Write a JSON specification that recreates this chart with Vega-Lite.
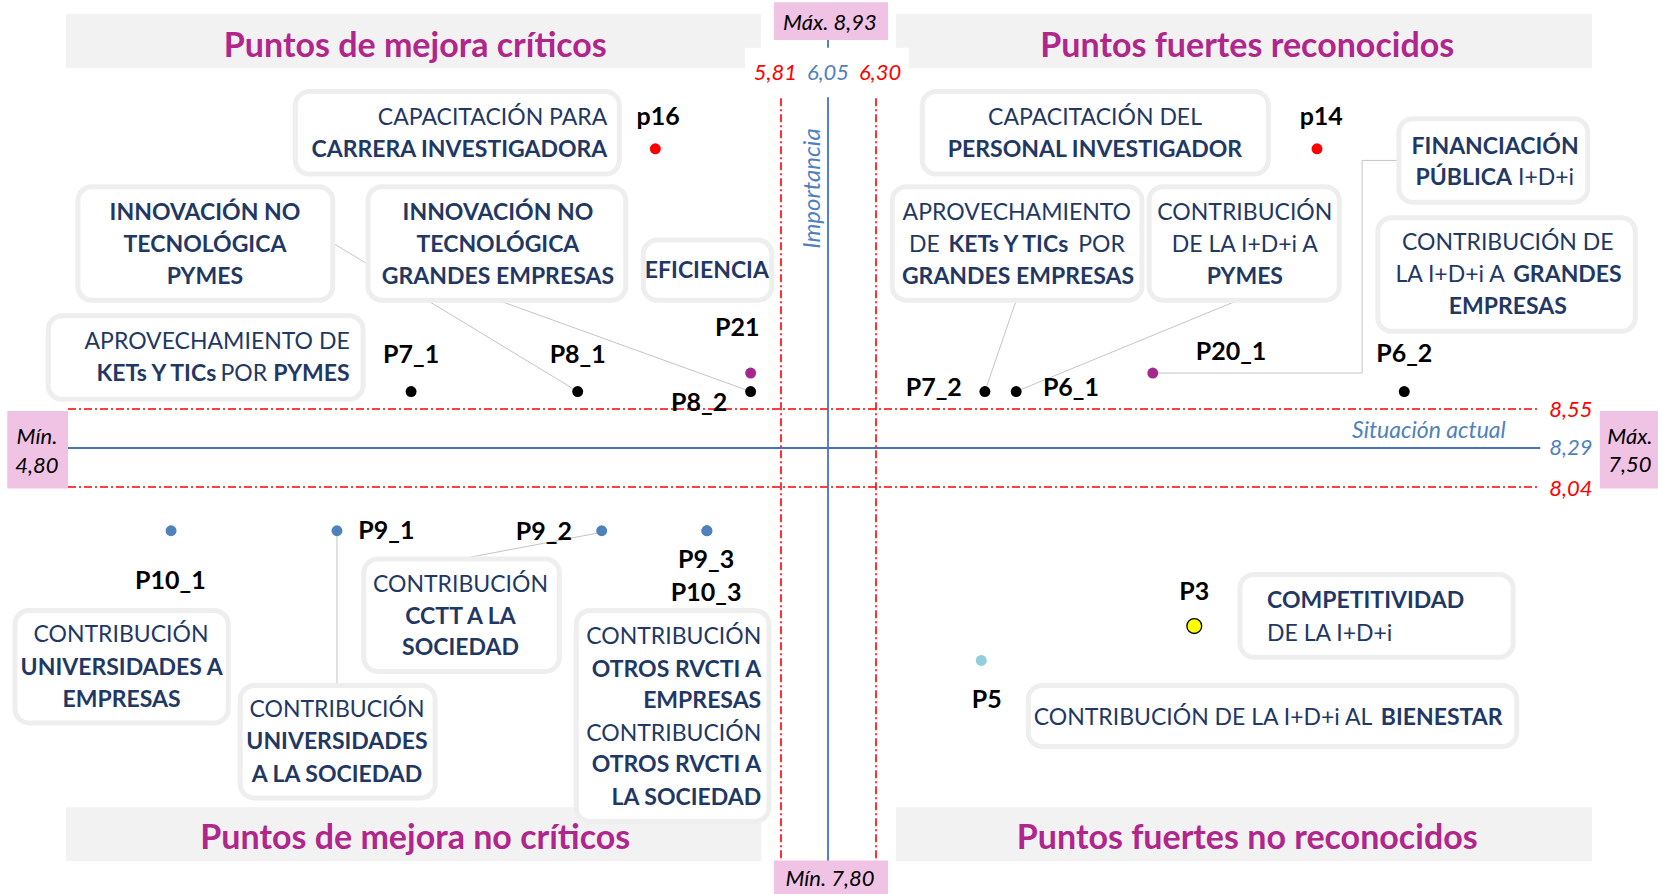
{
  "$schema": "https://vega.github.io/schema/vega-lite/v6.json",
  "width": 1658,
  "height": 894,
  "autosize": {"type": "none"},
  "padding": 0,
  "background": "#ffffff",
  "config": {"view": {"stroke": null}, "text": {"font": "Lato"}},
  "datasets": {
    "bands": [
      {"x": 4.797, "x2": 5.782, "y": 8.957, "y2": 8.901},
      {"x": 6.333, "x2": 7.490, "y": 8.957, "y2": 8.901},
      {"x": 4.797, "x2": 5.782, "y": 7.835, "y2": 7.8006},
      {"x": 6.333, "x2": 7.490, "y": 7.835, "y2": 7.8006}
    ],
    "titles": [
      {"x": 5.292, "y": 8.923, "t": "Puntos de mejora críticos"},
      {"x": 6.917, "y": 8.923, "t": "Puntos fuertes reconocidos"},
      {"x": 5.292, "y": 7.8147, "t": "Puntos de mejora no críticos"},
      {"x": 6.917, "y": 7.8147, "t": "Puntos fuertes no reconocidos"}
    ],
    "leaders": [
      {"x": 5.175, "y": 8.721, "x2": 5.522, "y2": 8.568},
      {"x": 5.409, "y": 8.662, "x2": 5.767, "y2": 8.568},
      {"x": 6.533, "y": 8.662, "x2": 6.481, "y2": 8.568},
      {"x": 6.902, "y": 8.662, "x2": 6.533, "y2": 8.568},
      {"x": 7.169, "y": 8.806, "x2": 7.108, "y2": 8.806},
      {"x": 7.108, "y": 8.806, "x2": 7.108, "y2": 8.587},
      {"x": 7.108, "y": 8.587, "x2": 6.760, "y2": 8.587},
      {"x": 5.181, "y": 8.012, "x2": 5.181, "y2": 7.913},
      {"x": 5.556, "y": 8.011, "x2": 5.357, "y2": 7.994}
    ],
    "hred": [{"y": 8.55, "x": 4.80, "x2": 7.40}, {"y": 8.04, "x": 4.80, "x2": 7.40}],
    "hblue": [{"y": 8.29, "x": 4.80, "x2": 7.404}],
    "vred": [{"x": 5.81, "y": 8.870, "y2": 7.80}, {"x": 6.30, "y": 8.870, "y2": 7.80}],
    "vblue": [{"x": 6.05, "y": 8.93, "y2": 7.80}],
    "whiteTag": [{"x": 5.759, "x2": 6.355, "y": 8.922, "y2": 8.871}],
    "pink": [
      {"x": 5.800, "x2": 6.320, "y": 8.969, "y2": 8.93},
      {"x": 5.800, "x2": 6.320, "y": 7.801, "y2": 7.775},
      {"x": 4.714, "x2": 4.80, "y": 8.537, "y2": 8.039},
      {"x": 7.503, "x2": 7.600, "y": 8.537, "y2": 8.039}
    ],
    "boxes": [
      {"x": 5.122, "x2": 5.581, "y": 8.877, "y2": 8.792},
      {"x": 4.814, "x2": 5.175, "y": 8.779, "y2": 8.662},
      {"x": 5.225, "x2": 5.590, "y": 8.779, "y2": 8.662},
      {"x": 5.615, "x2": 5.797, "y": 8.724, "y2": 8.662},
      {"x": 4.772, "x2": 5.218, "y": 8.646, "y2": 8.560},
      {"x": 6.377, "x2": 6.952, "y": 8.877, "y2": 8.792},
      {"x": 6.327, "x2": 6.742, "y": 8.779, "y2": 8.662},
      {"x": 6.754, "x2": 7.070, "y": 8.779, "y2": 8.662},
      {"x": 7.169, "x2": 7.483, "y": 8.849, "y2": 8.763},
      {"x": 7.134, "x2": 7.562, "y": 8.747, "y2": 8.630},
      {"x": 4.725, "x2": 5.027, "y": 7.961, "y2": 7.889},
      {"x": 5.044, "x2": 5.320, "y": 7.913, "y2": 7.841},
      {"x": 5.219, "x2": 5.496, "y": 7.994, "y2": 7.922},
      {"x": 5.520, "x2": 5.793, "y": 7.961, "y2": 7.826},
      {"x": 6.905, "x2": 7.359, "y": 7.984, "y2": 7.931},
      {"x": 6.553, "x2": 7.365, "y": 7.913, "y2": 7.874}
    ],
    "txtN": [
      {"x": 6.664, "y": 8.850, "t": "CAPACITACIÓN DEL"},
      {"x": 6.534, "y": 8.752, "t": "APROVECHAMIENTO"},
      {"x": 6.913, "y": 8.752, "t": "CONTRIBUCIÓN"},
      {"x": 6.913, "y": 8.719, "t": "DE LA I+D+i A"},
      {"x": 7.350, "y": 8.721, "t": "CONTRIBUCIÓN DE"},
      {"x": 4.875, "y": 7.945, "t": "CONTRIBUCIÓN"},
      {"x": 5.181, "y": 7.897, "t": "CONTRIBUCIÓN"},
      {"x": 5.356, "y": 7.977, "t": "CONTRIBUCIÓN"}
    ],
    "txtB": [
      {"x": 4.994, "y": 8.752, "t": "INNOVACIÓN NO"},
      {"x": 4.994, "y": 8.719, "t": "TECNOLÓGICA"},
      {"x": 4.994, "y": 8.686, "t": "PYMES"},
      {"x": 5.409, "y": 8.752, "t": "INNOVACIÓN NO"},
      {"x": 5.409, "y": 8.719, "t": "TECNOLÓGICA"},
      {"x": 5.409, "y": 8.686, "t": "GRANDES EMPRESAS"},
      {"x": 5.705, "y": 8.692, "t": "EFICIENCIA"},
      {"x": 6.664, "y": 8.817, "t": "PERSONAL INVESTIGADOR"},
      {"x": 6.520, "y": 8.719, "t": "KETs Y TICs"},
      {"x": 6.536, "y": 8.686, "t": "GRANDES EMPRESAS"},
      {"x": 6.913, "y": 8.686, "t": "PYMES"},
      {"x": 7.329, "y": 8.820, "t": "FINANCIACIÓN"},
      {"x": 7.350, "y": 8.655, "t": "EMPRESAS"},
      {"x": 4.876, "y": 7.924, "t": "UNIVERSIDADES A"},
      {"x": 4.876, "y": 7.904, "t": "EMPRESAS"},
      {"x": 5.181, "y": 7.877, "t": "UNIVERSIDADES"},
      {"x": 5.181, "y": 7.856, "t": "A  LA SOCIEDAD"},
      {"x": 5.356, "y": 7.957, "t": "CCTT A  LA"},
      {"x": 5.356, "y": 7.937, "t": "SOCIEDAD"}
    ],
    "txtNR": [
      {"x": 5.564, "y": 8.850, "t": "CAPACITACIÓN PARA"},
      {"x": 5.199, "y": 8.619, "t": "APROVECHAMIENTO DE"},
      {"x": 5.082, "y": 8.586, "t": "POR"},
      {"x": 6.406, "y": 8.719, "t": "DE"},
      {"x": 7.345, "y": 8.688, "t": "LA I+D+i A"},
      {"x": 5.782, "y": 7.944, "t": "CONTRIBUCIÓN"},
      {"x": 5.782, "y": 7.882, "t": "CONTRIBUCIÓN"},
      {"x": 7.125, "y": 7.892, "t": "CONTRIBUCIÓN DE LA I+D+i AL"}
    ],
    "txtBR": [
      {"x": 5.564, "y": 8.817, "t": "CARRERA INVESTIGADORA"},
      {"x": 5.199, "y": 8.586, "t": "PYMES"},
      {"x": 5.010, "y": 8.586, "t": "KETs Y TICs"},
      {"x": 7.357, "y": 8.788, "t": "PÚBLICA"},
      {"x": 5.782, "y": 7.923, "t": "OTROS RVCTI A"},
      {"x": 5.782, "y": 7.903, "t": "EMPRESAS"},
      {"x": 5.782, "y": 7.862, "t": "OTROS RVCTI A"},
      {"x": 5.782, "y": 7.841, "t": "LA SOCIEDAD"}
    ],
    "txtNL": [
      {"x": 6.636, "y": 8.719, "t": "POR"},
      {"x": 7.367, "y": 8.788, "t": "I+D+i"},
      {"x": 6.950, "y": 7.946, "t": "DE LA I+D+i"}
    ],
    "txtBL": [
      {"x": 7.359, "y": 8.688, "t": "GRANDES"},
      {"x": 6.950, "y": 7.967, "t": "COMPETITIVIDAD"},
      {"x": 7.139, "y": 7.892, "t": "BIENESTAR"}
    ],
    "points": [
      {"id": "p16", "g": "Capacitación", "x": 5.632, "y": 8.818},
      {"id": "p14", "g": "Capacitación", "x": 7.033, "y": 8.818},
      {"id": "P21", "g": "Eficiencia y financiación", "x": 5.767, "y": 8.587},
      {"id": "P20_1", "g": "Eficiencia y financiación", "x": 6.760, "y": 8.587},
      {"id": "P8_2", "g": "Empresas", "x": 5.767, "y": 8.568},
      {"id": "P7_1", "g": "Empresas", "x": 5.286, "y": 8.568},
      {"id": "P8_1", "g": "Empresas", "x": 5.522, "y": 8.568},
      {"id": "P7_2", "g": "Empresas", "x": 6.481, "y": 8.568},
      {"id": "P6_1", "g": "Empresas", "x": 6.533, "y": 8.568},
      {"id": "P6_2", "g": "Empresas", "x": 7.178, "y": 8.568},
      {"id": "P10_1", "g": "Sociedad", "x": 4.946, "y": 8.012},
      {"id": "P9_1", "g": "Sociedad", "x": 5.181, "y": 8.012},
      {"id": "P9_2", "g": "Sociedad", "x": 5.556, "y": 8.012},
      {"id": "P9_3", "g": "Sociedad", "x": 5.705, "y": 8.012},
      {"id": "P10_3", "g": "Sociedad", "x": 5.705, "y": 8.012},
      {"id": "P3", "g": "Competitividad", "x": 6.829, "y": 7.951},
      {"id": "P5", "g": "Bienestar", "x": 6.475, "y": 7.929}
    ],
    "pointLabels": [
      {"x": 5.636, "y": 8.851, "t": "p16"},
      {"x": 7.040, "y": 8.851, "t": "p14"},
      {"x": 5.748, "y": 8.633, "t": "P21"},
      {"x": 5.286, "y": 8.606, "t": "P7_1"},
      {"x": 5.522, "y": 8.606, "t": "P8_1"},
      {"x": 5.694, "y": 8.556, "t": "P8_2"},
      {"x": 6.396, "y": 8.572, "t": "P7_2"},
      {"x": 6.624, "y": 8.572, "t": "P6_1"},
      {"x": 6.890, "y": 8.609, "t": "P20_1"},
      {"x": 7.178, "y": 8.607, "t": "P6_2"},
      {"x": 5.251, "y": 8.012, "t": "P9_1"},
      {"x": 5.474, "y": 8.011, "t": "P9_2"},
      {"x": 4.945, "y": 7.980, "t": "P10_1"},
      {"x": 5.704, "y": 7.993, "t": "P9_3"},
      {"x": 5.704, "y": 7.972, "t": "P10_3"},
      {"x": 6.829, "y": 7.973, "t": "P3"},
      {"x": 6.484, "y": 7.904, "t": "P5"}
    ],
    "redLabels": [
      {"x": 5.802, "y": 8.896, "t": "5,81"},
      {"x": 6.307, "y": 8.896, "t": "6,30"},
      {"x": 7.455, "y": 8.543, "t": "8,55"},
      {"x": 7.455, "y": 8.039, "t": "8,04"}
    ],
    "blueLabels": [
      {"x": 6.05, "y": 8.896, "t": "6,05"},
      {"x": 7.455, "y": 8.29, "t": "8,29"}
    ],
    "axisTitleX": [{"x": 7.219, "y": 8.405, "t": "Situación actual"}],
    "blackLabels": [
      {"x": 6.060, "y": 8.948, "t": "Máx. 8,93"},
      {"x": 6.060, "y": 7.789, "t": "Mín. 7,80"},
      {"x": 4.756, "y": 8.363, "t": "Mín."},
      {"x": 4.756, "y": 8.175, "t": "4,80"},
      {"x": 7.553, "y": 8.363, "t": "Máx."},
      {"x": 7.553, "y": 8.181, "t": "7,50"}
    ],
    "axisTitleY": [{"x": 5.973, "y": 8.777, "t": "Importancia"}]
  },
  "encoding": {
    "x": {"field": "x", "type": "quantitative", "axis": null,
      "scale": {"domain": [4.80, 5.81, 6.05, 6.30, 7.50], "range": [68, 781, 828, 876, 1598], "nice": false, "zero": false}},
    "y": {"field": "y", "type": "quantitative", "axis": null,
      "scale": {"domain": [7.80, 8.04, 8.29, 8.55, 8.93], "range": [862, 487, 448, 409, 40], "nice": false, "zero": false}}
  },
  "layer": [
    {"data": {"name": "bands"}, "mark": {"type": "rect", "color": "#f2f2f2"},
     "encoding": {"x2": {"field": "x2"}, "y2": {"field": "y2"}}},
    {"data": {"name": "titles"}, "mark": {"type": "text", "fontSize": 34, "fontWeight": "bold", "color": "#b0268c", "align": "center", "baseline": "middle"},
     "encoding": {"text": {"field": "t"}}},
    {"data": {"name": "leaders"}, "mark": {"type": "rule", "color": "#c4c4c4", "strokeWidth": 1},
     "encoding": {"x2": {"field": "x2"}, "y2": {"field": "y2"}}},
    {"data": {"name": "hred"}, "mark": {"type": "rule", "color": "#ff0000", "strokeWidth": 1.6, "strokeDash": [8, 3, 2, 3]},
     "encoding": {"x2": {"field": "x2"}}},
    {"data": {"name": "hblue"}, "mark": {"type": "rule", "color": "#4472c4", "strokeWidth": 1.8},
     "encoding": {"x2": {"field": "x2"}}},
    {"data": {"name": "vred"}, "mark": {"type": "rule", "color": "#ff0000", "strokeWidth": 1.6, "strokeDash": [8, 3, 2, 3]},
     "encoding": {"y2": {"field": "y2"}}},
    {"data": {"name": "vblue"}, "mark": {"type": "rule", "color": "#4472c4", "strokeWidth": 1.8},
     "encoding": {"y2": {"field": "y2"}}},
    {"data": {"name": "whiteTag"}, "mark": {"type": "rect", "color": "#ffffff"},
     "encoding": {"x2": {"field": "x2"}, "y2": {"field": "y2"}}},
    {"data": {"name": "pink"}, "mark": {"type": "rect", "color": "#f0c3e4"},
     "encoding": {"x2": {"field": "x2"}, "y2": {"field": "y2"}}},
    {"data": {"name": "boxes"}, "mark": {"type": "rect", "fill": "#ffffff", "stroke": "#eeeeee", "strokeWidth": 5, "cornerRadius": 14},
     "encoding": {"x2": {"field": "x2"}, "y2": {"field": "y2"}}},
    {"data": {"name": "txtN"}, "mark": {"type": "text", "fontSize": 23, "color": "#1f3864", "align": "center", "baseline": "middle"},
     "encoding": {"text": {"field": "t"}}},
    {"data": {"name": "txtB"}, "mark": {"type": "text", "fontSize": 23, "fontWeight": "bold", "color": "#1f3864", "align": "center", "baseline": "middle"},
     "encoding": {"text": {"field": "t"}}},
    {"data": {"name": "txtNR"}, "mark": {"type": "text", "fontSize": 23, "color": "#1f3864", "align": "right", "baseline": "middle"},
     "encoding": {"text": {"field": "t"}}},
    {"data": {"name": "txtBR"}, "mark": {"type": "text", "fontSize": 23, "fontWeight": "bold", "color": "#1f3864", "align": "right", "baseline": "middle"},
     "encoding": {"text": {"field": "t"}}},
    {"data": {"name": "txtNL"}, "mark": {"type": "text", "fontSize": 23, "color": "#1f3864", "align": "left", "baseline": "middle"},
     "encoding": {"text": {"field": "t"}}},
    {"data": {"name": "txtBL"}, "mark": {"type": "text", "fontSize": 23, "fontWeight": "bold", "color": "#1f3864", "align": "left", "baseline": "middle"},
     "encoding": {"text": {"field": "t"}}},
    {"data": {"name": "points"}, "transform": [{"filter": "datum.g != 'Competitividad'"}],
     "mark": {"type": "circle", "size": 120, "opacity": 1},
     "encoding": {"color": {"field": "g", "type": "nominal", "legend": null,
        "scale": {"domain": ["Capacitación", "Eficiencia y financiación", "Empresas", "Sociedad", "Competitividad", "Bienestar"],
                  "range": ["#ff0000", "#a3288e", "#000000", "#4f81bd", "#ffff00", "#92cddc"]}}}},
    {"data": {"name": "points"}, "transform": [{"filter": "datum.g == 'Competitividad'"}],
     "mark": {"type": "point", "shape": "circle", "size": 220, "filled": true, "fill": "#ffff00", "stroke": "#000000", "strokeWidth": 1.3, "opacity": 1},
     "encoding": {}},
    {"data": {"name": "pointLabels"}, "mark": {"type": "text", "fontSize": 25, "fontWeight": "bold", "color": "#000000", "align": "center", "baseline": "middle"},
     "encoding": {"text": {"field": "t"}}},
    {"data": {"name": "redLabels"}, "mark": {"type": "text", "fontSize": 22, "fontStyle": "italic", "color": "#ff0000", "align": "center", "baseline": "middle"},
     "encoding": {"text": {"field": "t"}}},
    {"data": {"name": "blueLabels"}, "mark": {"type": "text", "fontSize": 22, "fontStyle": "italic", "color": "#4f81bd", "align": "center", "baseline": "middle"},
     "encoding": {"text": {"field": "t"}}},
    {"data": {"name": "axisTitleX"}, "mark": {"type": "text", "fontSize": 23, "fontStyle": "italic", "color": "#4f81bd", "align": "center", "baseline": "middle"},
     "encoding": {"text": {"field": "t"}}},
    {"data": {"name": "blackLabels"}, "mark": {"type": "text", "fontSize": 22, "fontStyle": "italic", "color": "#000000", "align": "center", "baseline": "middle"},
     "encoding": {"text": {"field": "t"}}},
    {"data": {"name": "axisTitleY"}, "mark": {"type": "text", "fontSize": 24, "fontStyle": "italic", "color": "#4f81bd", "align": "center", "baseline": "middle", "angle": 270},
     "encoding": {"text": {"field": "t"}}}
  ]
}
